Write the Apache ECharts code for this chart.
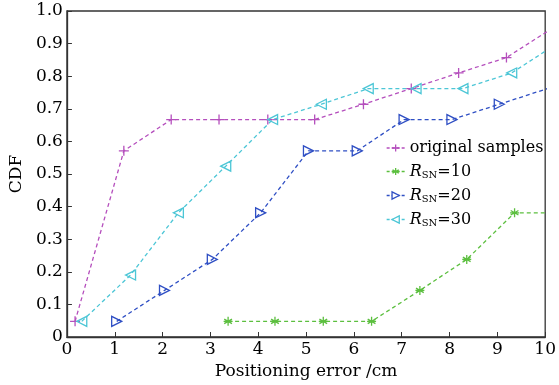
<!DOCTYPE html>
<html><head><meta charset="utf-8">
<script src="https://cdn.jsdelivr.net/npm/echarts@6/dist/echarts.min.js"></script>
<style>html,body{margin:0;padding:0;background:#fff}#c{width:559px;height:385px}</style>
</head><body><div id="c"></div>
<script>
// Data (x: positioning error in cm, y: CDF)
const origX = [0.17, 1.19, 2.18, 3.18, 4.2, 5.18, 6.2, 7.2, 8.19, 9.19, 10.2];
const origY = [0.048, 0.571, 0.667, 0.667, 0.667, 0.667, 0.714, 0.762, 0.81, 0.857, 0.952];
const r10X = [3.37, 4.35, 5.36, 6.37, 7.38, 8.36, 9.36, 10.36];
const r10Y = [0.048, 0.048, 0.048, 0.048, 0.143, 0.238, 0.381, 0.381];
const r20X = [1.04, 2.04, 3.04, 4.05, 5.05, 6.07, 7.05, 8.05, 9.04, 10.05];
const r20Y = [0.048, 0.143, 0.238, 0.381, 0.571, 0.571, 0.667, 0.667, 0.714, 0.762];
const r30X = [0.31, 1.33, 2.33, 3.32, 4.3, 5.32, 6.3, 7.3, 8.28, 9.3, 10.3];
const r30Y = [0.048, 0.190, 0.381, 0.524, 0.667, 0.714, 0.762, 0.762, 0.762, 0.81, 0.905];
const xTicks = [0,1,2,3,4,5,6,7,8,9,10];
const yTicks = [0,0.1,0.2,0.3,0.4,0.5,0.6,0.7,0.8,0.9,1.0];
const seriesNames = ['original samples', 'R10', 'R20', 'R30'];

const FONT = 'DejaVu Serif';
const FS = 17;
const LFS = 16;
const TXT = '#000';
const COLORS = ['#b54fbd', '#5cbf3f', '#2f4fc4', '#4cc6d6'];
const pair = (xs, ys) => xs.map((x, i) => [x, ys[i]]);
const plusPath = 'path://M0,5L10,5M5,0L5,10';
const starPath = 'path://M5,0L5,10M0.7,2.5L9.3,7.5M0.7,7.5L9.3,2.5M0,5L10,5';

function mk(name, data, color, symbol, size, rotate, dash) {
  return {
    name, type: 'line', data, clip: true,
    symbol, symbolSize: size, symbolRotate: rotate || 0,
    lineStyle: { color, width: 1.3, type: dash || [4, 3] },
    itemStyle: { color: 'rgba(255,255,255,0)', borderColor: color, borderWidth: 1.3 },
    emphasis: { disabled: true },
    z: 2
  };
}

const chart = echarts.init(document.getElementById('c'));
chart.setOption({
  animation: false,
  backgroundColor: '#fff',
  grid: { left: 66, right: 12, top: 11, bottom: 48, show: true, borderColor: '#333', borderWidth: 1.3, backgroundColor: 'transparent' },
  xAxis: {
    type: 'value', min: 0, max: 10, interval: 1,
    name: 'Positioning error /cm', nameLocation: 'middle', nameGap: 25,
    nameTextStyle: { fontFamily: FONT, fontSize: FS, color: TXT },
    axisLine: { show: true, lineStyle: { color: '#333', width: 1.3 } },
    axisTick: { show: true, inside: true, length: 5, lineStyle: { color: '#333' } },
    axisLabel: { fontFamily: FONT, fontSize: FS, color: TXT, margin: 4, formatter: v => xTicks.includes(v) ? String(v) : '' },
    splitLine: { show: false }
  },
  yAxis: {
    type: 'value', min: 0, max: 1, interval: 0.1,
    name: 'CDF', nameLocation: 'middle', nameGap: 37, nameRotate: 90,
    nameTextStyle: { fontFamily: FONT, fontSize: FS, color: TXT },
    axisLine: { show: true, lineStyle: { color: '#333', width: 1.3 } },
    axisTick: { show: true, inside: true, length: 5, lineStyle: { color: '#333' } },
    axisLabel: { fontFamily: FONT, fontSize: FS, color: TXT, margin: 4,
      formatter: v => { const t = yTicks.find(y => Math.abs(y - v) < 1e-6); return t === undefined ? '' : (t === 0 ? '0' : t.toFixed(1)); } },
    splitLine: { show: false }
  },
  legend: {
    left: 386, top: 140, orient: 'vertical', itemGap: 7.5, padding: 0,
    itemWidth: 18, itemHeight: 9,
    data: seriesNames.map((n, i) => ({
      name: n,
      itemStyle: { color: '#fff', borderColor: COLORS[i], borderWidth: 1.3 },
      lineStyle: { color: COLORS[i], width: 1.3, type: [3, 2] }
    })),
    textStyle: { fontFamily: FONT, fontSize: LFS, color: TXT,
      rich: {
        i: { fontFamily: FONT, fontSize: LFS, fontStyle: 'italic', color: TXT },
        s: { fontFamily: FONT, fontSize: 10, color: TXT, verticalAlign: 'bottom', padding: [7, 0, 0, 0] },
        n: { fontFamily: FONT, fontSize: LFS, color: TXT }
      } },
    formatter: n => n === 'original samples' ? n : '{i|R}{s|SN}{n|=' + n.slice(1) + '}'
  },
  series: [
    mk('original samples', pair(origX, origY), COLORS[0], plusPath, 10),
    mk('R10', pair(r10X, r10Y), COLORS[1], starPath, 9),
    mk('R20', pair(r20X, r20Y), COLORS[2], 'triangle', 10, -90),
    mk('R30', pair(r30X, r30Y), COLORS[3], 'triangle', 10, 90)
  ]
});
</script></body></html>
